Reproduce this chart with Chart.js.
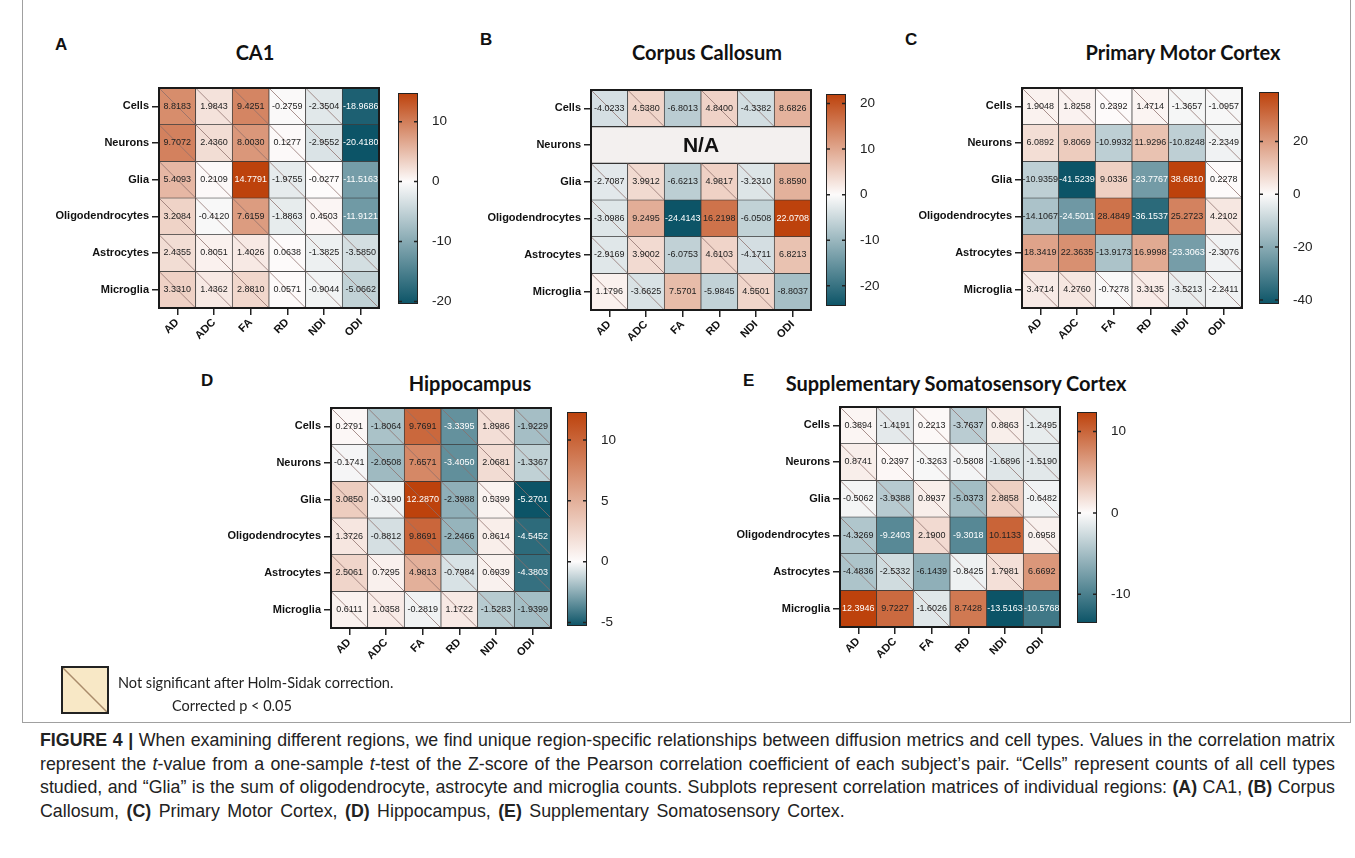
<!DOCTYPE html>
<html>
<head>
<meta charset="utf-8">
<script src="https://cdn.jsdelivr.net/npm/chart.js@4.4.1/dist/chart.umd.min.js"></script>
<style>
  body { margin: 0; background: #fff; width: 1355px; height: 858px; position: relative; overflow: hidden; font-family: "Liberation Sans", Arial, sans-serif; }
  .frame { position: absolute; left: 22px; top: -1px; width: 1327px; height: 722px; border: 1px solid #a0a0a0; }
  .lab { position: absolute; font: bold 17px "Liberation Sans", Arial, sans-serif; color: #111; }
  .ttl { position: absolute; font: bold 20px Lato, sans-serif; color: #111; transform: translate(-50%, -50%); white-space: nowrap; }
  canvas { position: absolute; }
  .legbox { position: absolute; left: 61px; top: 666px; width: 44px; height: 44px; border: 2px solid #222; background: #f8e8c6; overflow: hidden; }
  .legtxt { position: absolute; font: 14.5px Lato, sans-serif; color: #222; white-space: nowrap; }
  .caption { position: absolute; left: 40px; top: 729px; width: 1295px; font: 17.8px "Liberation Sans", Arial, sans-serif; line-height: 23.6px; color: #222; }
  .caption div { white-space: nowrap; }
  .caption .j { text-align: justify; text-align-last: justify; }
  .caption .last { word-spacing: 2.5px; }
</style>
</head>
<body>
<div class="frame"></div>

<div class="lab" style="left:55px;top:35px">A</div>
<div class="lab" style="left:480px;top:30px">B</div>
<div class="lab" style="left:905px;top:30px">C</div>
<div class="lab" style="left:201px;top:371px">D</div>
<div class="lab" style="left:743px;top:371px">E</div>

<div class="ttl" style="left:255px;top:52px">CA1</div>
<div class="ttl" style="left:707px;top:52px">Corpus Callosum</div>
<div class="ttl" style="left:1183px;top:52px">Primary Motor Cortex</div>
<div class="ttl" style="left:470px;top:383px">Hippocampus</div>
<div class="ttl" style="left:956px;top:383px">Supplementary Somatosensory Cortex</div>

<canvas id="hmA"></canvas><canvas id="cbA"></canvas>
<canvas id="hmB"></canvas><canvas id="cbB"></canvas>
<canvas id="hmC"></canvas><canvas id="cbC"></canvas>
<canvas id="hmD"></canvas><canvas id="cbD"></canvas>
<canvas id="hmE"></canvas><canvas id="cbE"></canvas>

<div class="legbox"><svg width="44" height="44"><line x1="0" y1="0" x2="44" y2="44" stroke="#a98b6b" stroke-width="1.5"/></svg></div>
<div class="legtxt" style="left:118px;top:674px">Not significant after Holm-Sidak correction.</div>
<div class="legtxt" style="left:172px;top:697px">Corrected p &lt; 0.05</div>

<div class="caption">
<div class="j"><b>FIGURE 4 |</b> When examining different regions, we find unique region-specific relationships between diffusion metrics and cell types. Values in the correlation matrix</div>
<div class="j">represent the <i>t</i>-value from a one-sample <i>t</i>-test of the Z-score of the Pearson correlation coefficient of each subject’s pair. “Cells” represent counts of all cell types</div>
<div class="j">studied, and “Glia” is the sum of oligodendrocyte, astrocyte and microglia counts. Subplots represent correlation matrices of individual regions: <b>(A)</b> CA1, <b>(B)</b> Corpus</div>
<div class="last">Callosum, <b>(C)</b> Primary Motor Cortex, <b>(D)</b> Hippocampus, <b>(E)</b> Supplementary Somatosensory Cortex.</div>
</div>

<script>
// rows / columns shared by all five matrices
const rowLabels = ["Cells", "Neurons", "Glia", "Oligodendrocytes", "Astrocytes", "Microglia"];
const colLabels = ["AD", "ADC", "FA", "RD", "NDI", "ODI"];

// t-values, one array per row
const ca1Values = [
  [8.8183, 1.9843, 9.4251, -0.2759, -2.3504, -18.9686],
  [9.7072, 2.4360, 8.0030, 0.1277, -2.9552, -20.4180],
  [5.4093, 0.2109, 14.7791, -1.9755, -0.0277, -11.5163],
  [3.2084, -0.4120, 7.6159, -1.8863, 0.4503, -11.9121],
  [2.4355, 0.8051, 1.4026, 0.0638, -1.3825, -3.5850],
  [3.3310, 1.4362, 2.8810, 0.0571, -0.9044, -5.0662]
];
const ccValues = [
  [-4.0233, 4.5380, -6.8013, 4.8400, -4.3382, 8.6826],
  null, // N/A
  [-2.7087, 3.9912, -6.6213, 4.9817, -3.2310, 8.8590],
  [-3.0986, 9.2495, -24.4143, 16.2198, -6.0508, 22.0708],
  [-2.9169, 3.9002, -6.0753, 4.6103, -4.1711, 6.8213],
  [1.1796, -3.6625, 7.5701, -5.9845, 4.5501, -8.8037]
];
const pmcValues = [
  [1.9048, 1.8258, 0.2392, 1.4714, -1.3657, -1.0957],
  [6.0892, 9.8069, -10.9932, 11.9296, -10.8248, -2.2349],
  [-10.9359, -41.5239, 9.0336, -23.7767, 38.6810, 0.2278],
  [-14.1067, -24.5011, 28.4849, -36.1537, 25.2723, 4.2102],
  [18.3419, 22.3635, -13.9173, 16.9998, -23.3063, -2.3076],
  [3.4714, 4.2760, -0.7278, 3.3135, -3.5213, -2.2411]
];
const hipValues = [
  [0.2791, -1.8064, 9.7691, -3.3395, 1.8986, -1.9229],
  [-0.1741, -2.0508, 7.6571, -3.4050, 2.0681, -1.3367],
  [3.0850, -0.3190, 12.2870, -2.3988, 0.5399, -5.2701],
  [1.3726, -0.8812, 9.8691, -2.2466, 0.8614, -4.5452],
  [2.5061, 0.7295, 4.9813, -0.7984, 0.6939, -4.3803],
  [0.6111, 1.0358, -0.2819, 1.1722, -1.5283, -1.9399]
];
const sscValues = [
  [0.3894, -1.4191, 0.2213, -3.7637, 0.8863, -1.2495],
  [0.8741, 0.2397, -0.3263, -0.5808, -1.6896, -1.5190],
  [-0.5062, -3.9388, 0.8937, -5.0373, 2.8858, -0.6482],
  [-4.3269, -9.2403, 2.1900, -9.3018, 10.1133, 0.6958],
  [-4.4836, -2.5332, -6.1439, -0.8425, 1.7981, 6.6692],
  [12.3946, 9.7227, -1.6026, 8.7428, -13.5163, -10.5768]
];

// 1 = not significant after Holm-Sidak (diagonal stroke)
const ca1Ns = [
  [1, 1, 1, 1, 1, 0],
  [1, 1, 1, 1, 1, 0],
  [1, 1, 0, 1, 1, 0],
  [1, 1, 1, 1, 1, 0],
  [1, 1, 1, 1, 1, 1],
  [1, 1, 1, 1, 1, 1]
];
const ccNs = [
  [1, 1, 0, 1, 1, 0],
  null,
  [1, 1, 0, 1, 1, 0],
  [1, 0, 0, 0, 0, 0],
  [1, 1, 0, 1, 1, 0],
  [1, 1, 0, 0, 1, 0]
];
const pmcNs = [
  [1, 1, 1, 1, 1, 1],
  [0, 0, 0, 0, 0, 1],
  [0, 0, 0, 0, 0, 1],
  [0, 0, 0, 0, 0, 1],
  [0, 0, 0, 0, 0, 1],
  [1, 1, 1, 1, 1, 1]
];
const hipNs = [
  [1, 1, 1, 1, 1, 1],
  [1, 1, 1, 1, 1, 1],
  [1, 1, 1, 1, 1, 1],
  [1, 1, 1, 1, 1, 1],
  [1, 1, 1, 1, 1, 1],
  [1, 1, 1, 1, 1, 1]
];
const sscNs = [
  [1, 1, 1, 1, 1, 1],
  [1, 1, 1, 1, 1, 1],
  [1, 1, 1, 1, 1, 1],
  [1, 0, 1, 0, 0, 1],
  [1, 1, 0, 1, 1, 0],
  [0, 0, 1, 0, 0, 0]
];

// colour bar tick labels
const ca1Ticks = [10, 0, -10, -20];
const ccTicks = [20, 10, 0, -10, -20];
const pmcTicks = [20, 0, -20, -40];
const hipTicks = [10, 5, 0, -5];
const sscTicks = [10, 0, -10];

const POS = [189, 66, 12];
const NEG = [12, 84, 103];
const MID = [253, 251, 251];

function mix(a, b, t) {
  return "rgb(" + a.map((v, i) => Math.round(v + (b[i] - v) * t)).join(",") + ")";
}
function cellColor(v, lo, hi) {
  if (v >= 0) return mix(MID, POS, Math.min(1, v / hi));
  return mix(MID, NEG, Math.min(1, v / lo));
}
function range(values) {
  const all = values.filter(r => r).flat();
  return [Math.min(...all), Math.max(...all)];
}

function sizeCanvas(id, left, top, w, h) {
  const c = document.getElementById(id);
  c.width = w; c.height = h;
  c.style.left = left + "px"; c.style.top = top + "px";
  c.style.width = w + "px"; c.style.height = h + "px";
  return c;
}

const AXIS_W = 140, AXIS_H = 60, PAD_T = 10, PAD_R = 12;

function drawHeatmap(id, values, ns, gx, gy, gsize) {
  const [lo, hi] = range(values);
  const cv = sizeCanvas(id, gx - AXIS_W, gy - PAD_T, AXIS_W + gsize + PAD_R, PAD_T + gsize + AXIS_H);

  const datasets = values.map((row, r) => ({
    data: colLabels.map(() => [r - 0.5, r + 0.5]),
    backgroundColor: colLabels.map((_, c) => row ? cellColor(row[c], lo, hi) : "#f3f0ef"),
    borderColor: "#3a3a3a",
    borderWidth: row ? 0.7 : 0,
    borderSkipped: false,
    grouped: false,
    barPercentage: 1,
    categoryPercentage: 1
  }));

  // values, diagonals, N/A row and outer frame
  const cellPlugin = {
    id: "cells",
    afterDatasetsDraw(chart) {
      const { ctx, chartArea: a, scales: { x, y } } = chart;
      const cw = a.width / 6, ch = a.height / 6;
      ctx.save();
      values.forEach((row, r) => {
        const cy = y.getPixelForValue(r);
        if (!row) {
          ctx.strokeStyle = "#333"; ctx.lineWidth = 1.4;
          ctx.beginPath();
          ctx.moveTo(a.left, cy - ch / 2); ctx.lineTo(a.right, cy - ch / 2);
          ctx.moveTo(a.left, cy + ch / 2); ctx.lineTo(a.right, cy + ch / 2);
          ctx.stroke();
          ctx.fillStyle = "#111";
          ctx.font = "bold 21px 'Liberation Sans', Arial";
          ctx.textAlign = "center"; ctx.textBaseline = "middle";
          ctx.fillText("N/A", (a.left + a.right) / 2, cy + 1);
          return;
        }
        row.forEach((v, c) => {
          const cx = x.getPixelForValue(c);
          if (ns[r][c]) {
            ctx.strokeStyle = "rgba(140,110,105,0.75)"; ctx.lineWidth = 1;
            ctx.beginPath();
            ctx.moveTo(cx - cw / 2, cy - ch / 2);
            ctx.lineTo(cx + cw / 2, cy + ch / 2);
            ctx.stroke();
          }
          const t = v >= 0 ? v / hi : v / lo;
          const white = v >= 0 ? t > 0.85 : t > 0.55;
          ctx.fillStyle = white ? "#fff" : "#222";
          ctx.font = "9px 'Liberation Sans', Arial";
          ctx.textAlign = "center"; ctx.textBaseline = "middle";
          ctx.fillText(v.toFixed(4), cx, cy);
        });
      });
      ctx.strokeStyle = "#1a1a1a"; ctx.lineWidth = 2;
      ctx.strokeRect(a.left, a.top, a.width, a.height);
      ctx.restore();
    }
  };

  new Chart(cv, {
    type: "bar",
    data: { labels: colLabels, datasets },
    options: {
      responsive: false,
      animation: false,
      events: [],
      layout: { padding: { top: PAD_T, right: PAD_R, left: 0, bottom: 0 } },
      plugins: { legend: { display: false }, tooltip: { enabled: false } },
      scales: {
        x: {
          type: "category",
          offset: true,
          grid: { offset: false, drawOnChartArea: false, tickLength: 7, color: "#222", lineWidth: 1.5 },
          border: { display: false },
          ticks: { minRotation: 45, maxRotation: 45, padding: 1, color: "#111", font: { weight: "bold", size: 11 } },
          afterFit: s => { s.height = AXIS_H; }
        },
        y: {
          type: "linear",
          reverse: true,
          min: -0.5,
          max: 5.5,
          afterBuildTicks: s => { s.ticks = rowLabels.map((_, i) => ({ value: i })); },
          grid: { drawOnChartArea: false, tickLength: 7, color: "#222", lineWidth: 1.5 },
          border: { display: false },
          ticks: { callback: v => rowLabels[v], padding: 3, color: "#111", font: { weight: "bold", size: 11 } },
          afterFit: s => { s.width = AXIS_W; }
        }
      }
    },
    plugins: [cellPlugin]
  });
  return [lo, hi];
}

function drawColorbar(id, lo, hi, ticks, bx, top, bottom) {
  const cv = sizeCanvas(id, bx - 1, top - 10, 1 + 20 + 40, bottom - top + 20);
  const tickPlugin = {
    id: "cbticks",
    afterDatasetsDraw(chart) {
      const { ctx, chartArea: a, scales: { y } } = chart;
      ctx.save();
      ctx.strokeStyle = "#222"; ctx.lineWidth = 1.5;
      ticks.forEach(v => {
        const py = y.getPixelForValue(v);
        ctx.beginPath();
        ctx.moveTo(a.left, py); ctx.lineTo(a.left + 4, py);
        ctx.moveTo(a.right - 4, py); ctx.lineTo(a.right, py);
        ctx.stroke();
      });
      ctx.restore();
    }
  };
  new Chart(cv, {
    type: "bar",
    data: {
      labels: [""],
      datasets: [{
        data: [[lo, hi]],
        backgroundColor: ctx => {
          const a = ctx.chart.chartArea;
          if (!a) return null;
          const g = ctx.chart.ctx.createLinearGradient(0, a.bottom, 0, a.top);
          const z = -lo / (hi - lo);
          g.addColorStop(0, mix(NEG, NEG, 0));
          g.addColorStop(z, mix(MID, MID, 0));
          g.addColorStop(1, mix(POS, POS, 0));
          return g;
        },
        borderColor: "#222",
        borderWidth: 1.3,
        borderSkipped: false,
        barPercentage: 1,
        categoryPercentage: 1
      }]
    },
    options: {
      responsive: false,
      animation: false,
      events: [],
      layout: { padding: { top: 10, bottom: 10, left: 1, right: 0 } },
      plugins: { legend: { display: false }, tooltip: { enabled: false } },
      scales: {
        x: { display: false },
        y: {
          position: "right",
          min: lo,
          max: hi,
          afterBuildTicks: s => { s.ticks = ticks.map(v => ({ value: v })); },
          grid: { display: false },
          border: { display: false },
          ticks: { padding: 6, color: "#222", font: { size: 13.5 } },
          afterFit: s => { s.width = 40; }
        }
      }
    },
    plugins: [tickPlugin]
  });
}

Chart.defaults.font.family = "'Liberation Sans', Arial, sans-serif";

let r;
r = drawHeatmap("hmA", ca1Values, ca1Ns, 159, 88, 220);
drawColorbar("cbA", r[0], r[1], ca1Ticks, 398, 89, 308);
r = drawHeatmap("hmB", ccValues, ccNs, 591, 90, 220);
drawColorbar("cbB", r[0], r[1], ccTicks, 826, 90, 310);
r = drawHeatmap("hmC", pmcValues, pmcNs, 1022, 88, 220);
drawColorbar("cbC", r[0], r[1], pmcTicks, 1259, 88, 308);
r = drawHeatmap("hmD", hipValues, hipNs, 331, 408, 220);
drawColorbar("cbD", r[0], r[1], hipTicks, 567, 408, 630);
r = drawHeatmap("hmE", sscValues, sscNs, 840, 407, 220);
drawColorbar("cbE", r[0], r[1], sscTicks, 1077, 408, 627);
</script>
</body>
</html>
